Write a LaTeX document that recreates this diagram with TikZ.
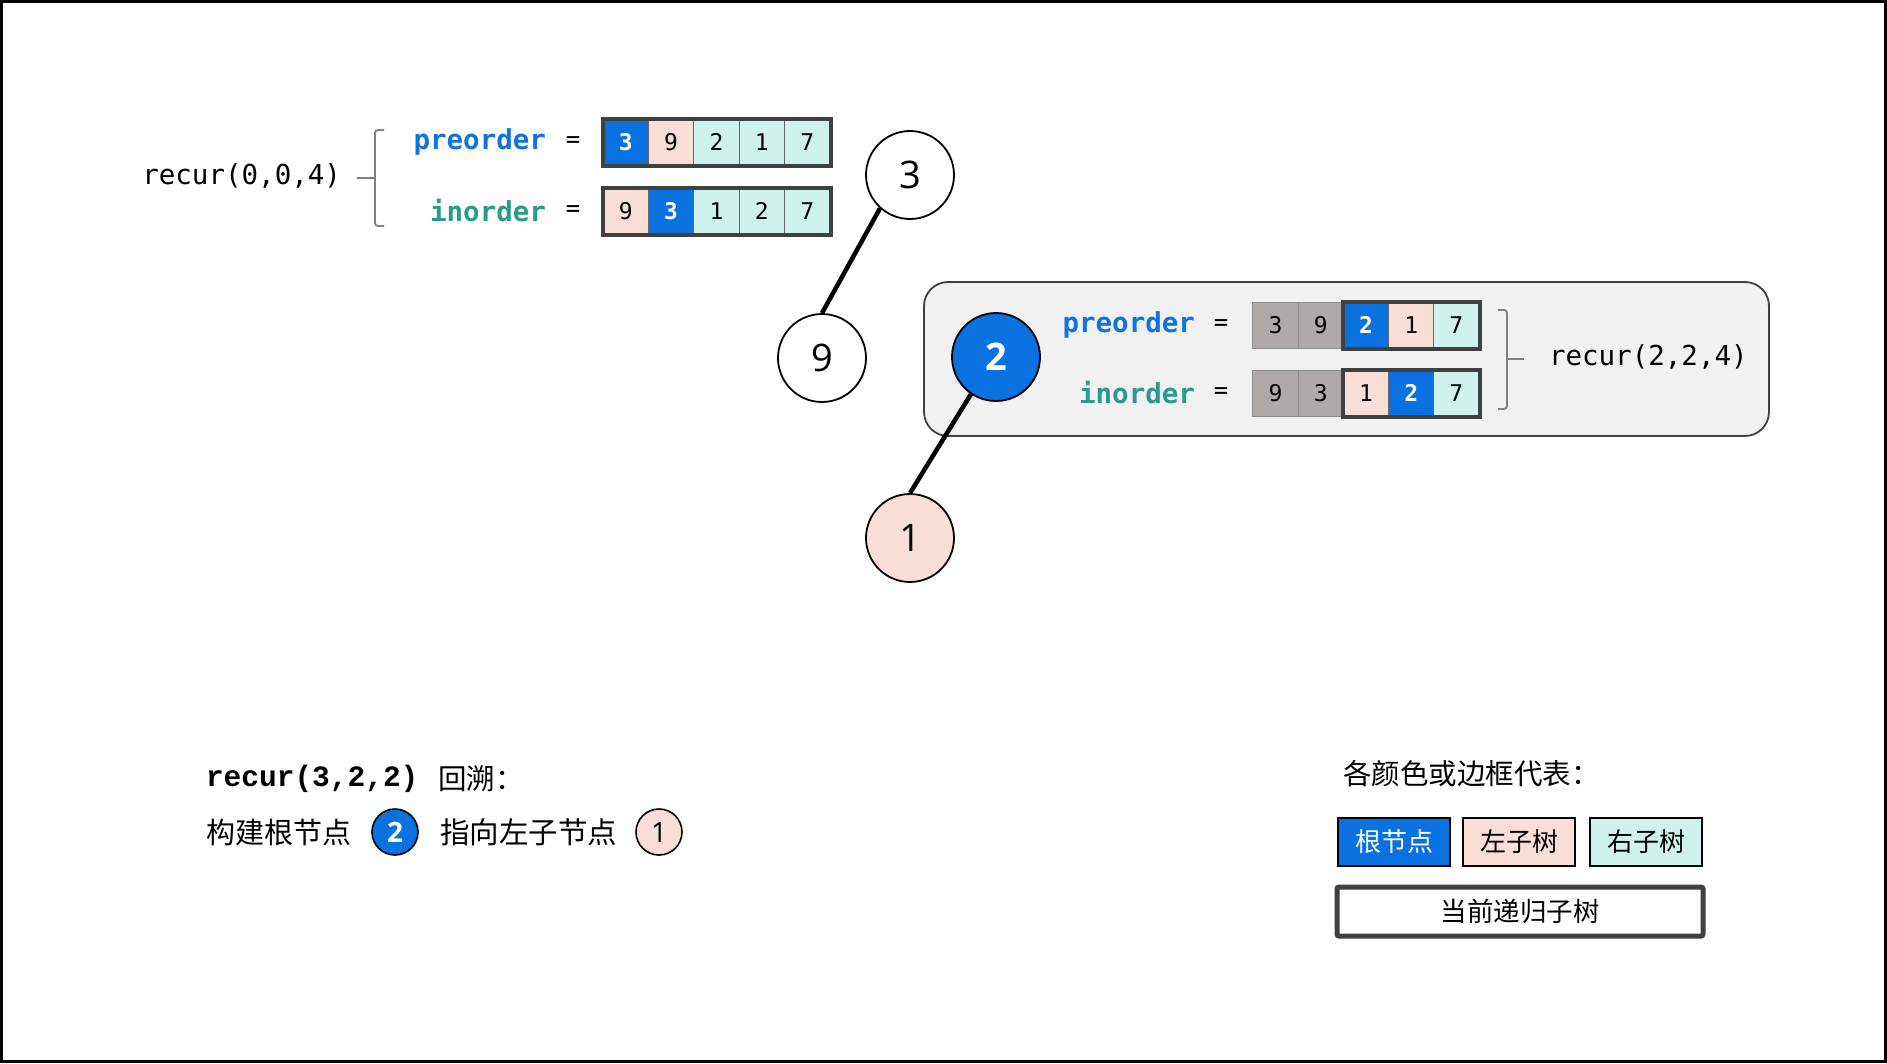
\documentclass[tikz,border=0pt]{standalone}
\usepackage{fontspec}
\setmainfont{Open Sans}
\setmonofont{DejaVu Sans Mono}
\newfontfamily\cjk{Noto Sans CJK SC}
\newfontfamily\slabmono{Liberation Mono}
\definecolor{rootblue}{HTML}{0A72E0}
\definecolor{leftpink}{HTML}{F9DED7}
\definecolor{rightcyan}{HTML}{CFF2EC}
\definecolor{grayc}{HTML}{AFAAA8}
\definecolor{boxbg}{HTML}{F1F1F1}
\definecolor{dark}{HTML}{404040}
\definecolor{preblue}{HTML}{1172E0}
\definecolor{inteal}{HTML}{2A9A8A}
\definecolor{bracegray}{HTML}{808080}
\begin{document}
\begin{tikzpicture}[x=1pt,y=-1pt,
  txt/.style={inner sep=0pt, outer sep=0pt},
  monot/.style={txt, font=\ttfamily\fontsize{27.5}{30}\selectfont},
  prelab/.style={txt, anchor=east, text=preblue, font=\ttfamily\bfseries\fontsize{27.5}{30}\selectfont},
  inlab/.style={txt, anchor=east, text=inteal, font=\ttfamily\bfseries\fontsize{27.5}{30}\selectfont},
  eqlab/.style={txt, font=\ttfamily\fontsize{24}{28}\selectfont},
  cell/.style={draw=dark!80, line width=1pt, minimum width=45.4pt, minimum height=46pt, inner sep=0pt,
     font=\ttfamily\fontsize{23}{26}\selectfont},
  rootc/.style={cell, fill=rootblue, text=white, font=\ttfamily\bfseries\fontsize{23}{26}\selectfont},
  leftc/.style={cell, fill=leftpink},
  rightc/.style={cell, fill=rightcyan},
  grayc/.style={cell, fill=grayc, draw=dark!60},
  frame/.style={draw=dark, line width=4pt},
  bracestyle/.style={draw=bracegray, line width=1.8pt, rounded corners=3pt},
  tnode/.style={circle, draw=black, line width=1.8pt, minimum size=88pt, inner sep=0pt, fill=white,
     font=\fontsize{38}{40}\selectfont},
  edge/.style={line width=4.5pt, black},
  smallc/.style={circle, draw=black, line width=1.6pt, minimum size=46pt, inner sep=0pt,
     font=\fontsize{28}{30}\selectfont},
  cjkt/.style={txt, font=\cjk\fontsize{29}{32}\selectfont},
  legbox/.style={draw=black, line width=2pt, minimum width=112pt, minimum height=48pt, inner sep=0pt,
     font=\cjk\fontsize{26}{30}\selectfont}
]
\useasboundingbox (0,0) rectangle (1887,1063);
\draw[line width=3pt, black] (1.5,1.5) rectangle (1885.5,1061.5);

% ---- top-left recur(0,0,4)
\node[monot, anchor=east] (rec1) at (341,176) {recur(0,0,4)};
\draw[bracestyle] (384,130) -- (375,130) -- (375,226) -- (384,226);
\draw[bracegray, line width=1.8pt] (357,178) -- (375,178);

\node[prelab] (pre1) at (546,142) {preorder};
\node[eqlab] (eq1) at (573,142) {=};
\node[inlab] (in1) at (546,211) {inorder};
\node[eqlab] (eq2) at (573,211) {=};

\node[rootc]  (pa1) at (625.7,142) {3};
\node[leftc]  (pa2) at (671.1,142) {9};
\node[rightc] (pa3) at (716.5,142) {2};
\node[rightc] (pa4) at (761.9,142) {1};
\node[rightc] (pa5) at (807.3,142) {7};
\draw[frame] (pa1.north west) rectangle (pa5.south east);

\node[leftc]  (ia1) at (625.7,211) {9};
\node[rootc]  (ia2) at (671.1,211) {3};
\node[rightc] (ia3) at (716.5,211) {1};
\node[rightc] (ia4) at (761.9,211) {2};
\node[rightc] (ia5) at (807.3,211) {7};
\draw[frame] (ia1.north west) rectangle (ia5.south east);

% ---- current recursion box
\node[draw=dark, line width=1.8pt, fill=boxbg, rounded corners=24pt, minimum width=845pt, minimum height=154pt,
      inner sep=0pt] (box) at (1346.5,359) {};

\node[prelab] (pre2) at (1195,325) {preorder};
\node[eqlab] (eq3) at (1221,325) {=};
\node[inlab] (in2) at (1195,393) {inorder};
\node[eqlab] (eq4) at (1221,393) {=};

\node[grayc]  (pb1) at (1275.6,325) {3};
\node[grayc]  (pb2) at (1320.8,325) {9};
\node[rootc]  (pb3) at (1366.0,325) {2};
\node[leftc]  (pb4) at (1411.2,325) {1};
\node[rightc] (pb5) at (1456.4,325) {7};
\draw[frame] (pb3.north west) rectangle (pb5.south east);

\node[grayc]  (ib1) at (1275.6,393) {9};
\node[grayc]  (ib2) at (1320.8,393) {3};
\node[leftc]  (ib3) at (1366.0,393) {1};
\node[rootc]  (ib4) at (1411.2,393) {2};
\node[rightc] (ib5) at (1456.4,393) {7};
\draw[frame] (ib3.north west) rectangle (ib5.south east);

\draw[bracestyle] (1498,310) -- (1507,310) -- (1507,409) -- (1498,409);
\draw[bracegray, line width=1.8pt] (1507,359) -- (1524,359);
\node[monot, anchor=west] (rec2) at (1549,357) {recur(2,2,4)};

% ---- tree
\node[tnode] (n3) at (910,175) {3};
\node[tnode] (n9) at (822,358) {9};
\node[tnode, fill=rootblue, text=white, font=\bfseries\fontsize{38}{40}\selectfont] (n2) at (996,357) {2};
\node[tnode, fill=leftpink] (n1) at (910,538) {1};
\draw[edge] (n3.228) -- (n9.north);
\draw[edge] (n2.236) -- (n1.north);

% ---- bottom-left explanation
\node[txt, anchor=west, font=\slabmono\bfseries\fontsize{29.5}{32}\selectfont] (rec3) at (206,779) {recur(3,2,2)};
\node[txt, anchor=west, font=\cjk\fontsize{28.5}{30}\selectfont] (back) at (438,779) {回溯：};
\node[cjkt, anchor=west] (build) at (206,832) {构建根节点};
\node[smallc, fill=rootblue, text=white, font=\bfseries\fontsize{28}{30}\selectfont] (s2) at (395,832) {2};
\node[cjkt, anchor=west, font=\cjk\fontsize{29.5}{32}\selectfont] (point) at (440,832) {指向左子节点};
\node[smallc, fill=leftpink] (s1) at (659,832) {1};

% ---- legend
\node[txt, anchor=west, font=\cjk\fontsize{28.5}{30}\selectfont] (legt) at (1343,774) {各颜色或边框代表：};
\node[legbox, fill=rootblue, text=white] (lg1) at (1394,842) {根节点};
\node[legbox, fill=leftpink] (lg2) at (1519,842) {左子树};
\node[legbox, fill=rightcyan] (lg3) at (1646,842) {右子树};
\node[draw=dark, line width=5pt, rounded corners=2pt, minimum width=366pt, minimum height=49pt, inner sep=0pt,
      fill=white, font=\cjk\fontsize{26.5}{30}\selectfont] (lg4) at (1520,911.5) {当前递归子树};
\end{tikzpicture}
\end{document}
